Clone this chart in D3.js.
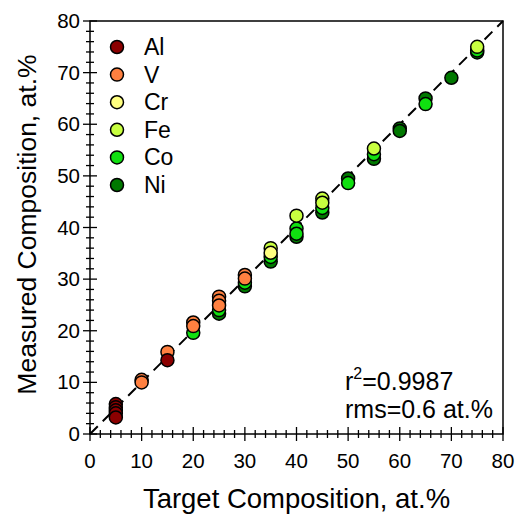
<!DOCTYPE html>
<html>
<head>
<meta charset="utf-8">
<script src="https://cdn.jsdelivr.net/npm/d3@7"></script>
<style>
  body { margin: 0; background: #fff; }
  svg { font-family: "Liberation Sans", Arial, sans-serif; }
</style>
</head>
<body>
<div id="wrapper"></div>
<script>
// element names and marker colours
const elements = ["Al", "V", "Cr", "Fe", "Co", "Ni"];
const colors = ["#8b0000", "#ff8040", "#ffff80", "#c8ff40", "#10e010", "#007800"];

// target vs measured, one pair of arrays per element
const alTarget = [5, 5, 5, 5, 5, 15];
const alMeasured = [5.8, 5.2, 4.6, 4.0, 3.2, 14.3];
const vTarget = [10, 10, 15, 20, 20, 25, 25, 25, 30, 30];
const vMeasured = [10.5, 10.0, 15.9, 21.6, 20.9, 26.6, 25.8, 24.9, 30.8, 30.1];
const crTarget = [35];
const crMeasured = [35.1];
const feTarget = [35, 40, 45, 45, 55, 75];
const feMeasured = [36.0, 42.3, 45.6, 44.8, 55.3, 75.0];
const coTarget = [20, 25, 30, 35, 40, 40, 45, 50, 55, 65, 75];
const coMeasured = [19.6, 24.0, 29.3, 34.3, 39.8, 38.8, 43.8, 48.6, 54.2, 63.9, 74.3];
const niTarget = [25, 30, 35, 40, 45, 50, 55, 60, 60, 65, 70, 75];
const niMeasured = [23.3, 28.6, 33.4, 38.2, 42.9, 49.5, 53.3, 59.2, 58.7, 65.0, 69.0, 73.9];

const targets = [alTarget, vTarget, crTarget, feTarget, coTarget, niTarget];
const measured = [alMeasured, vMeasured, crMeasured, feMeasured, coMeasured, niMeasured];

const statsLines = ["rms=0.6 at.%"];

const width = 516;
const height = 514;
const margin = { top: 21, right: 13, bottom: 80, left: 90 };

const xScale = d3.scaleLinear().domain([0, 80]).range([margin.left, width - margin.right]);
const yScale = d3.scaleLinear().domain([0, 80]).range([height - margin.bottom, margin.top]);

const svg = d3.select("#wrapper").append("svg")
  .attr("width", width)
  .attr("height", height);

// 1:1 dashed line
svg.append("line")
  .attr("x1", xScale(0)).attr("y1", yScale(0))
  .attr("x2", xScale(80)).attr("y2", yScale(80))
  .attr("stroke", "#000")
  .attr("stroke-width", 2)
  .attr("stroke-dasharray", "11,7");

// frame
svg.append("rect")
  .attr("x", xScale(0)).attr("y", yScale(80))
  .attr("width", xScale(80) - xScale(0))
  .attr("height", yScale(0) - yScale(80))
  .attr("fill", "none")
  .attr("stroke", "#000")
  .attr("stroke-width", 1.5);

// ticks crossing the axes, major every 10, minor every 2
const xTicks = svg.append("g");
xTicks.selectAll("line")
  .data(xScale.ticks(40))
  .join("line")
  .attr("x1", d => xScale(d)).attr("x2", d => xScale(d))
  .attr("y1", d => yScale(0) - (d % 10 === 0 ? 7 : 4))
  .attr("y2", d => yScale(0) + (d % 10 === 0 ? 7 : 4))
  .attr("stroke", "#000")
  .attr("stroke-width", 1.3);

const yTicks = svg.append("g");
yTicks.selectAll("line")
  .data(yScale.ticks(40))
  .join("line")
  .attr("y1", d => yScale(d)).attr("y2", d => yScale(d))
  .attr("x1", d => xScale(0) - (d % 10 === 0 ? 7 : 4))
  .attr("x2", d => xScale(0) + (d % 10 === 0 ? 7 : 4))
  .attr("stroke", "#000")
  .attr("stroke-width", 1.3);

// tick labels
svg.append("g").selectAll("text")
  .data(xScale.ticks(8))
  .join("text")
  .attr("x", d => xScale(d))
  .attr("y", yScale(0) + 34)
  .attr("text-anchor", "middle")
  .attr("font-size", 20.5)
  .text(d => d);

svg.append("g").selectAll("text")
  .data(yScale.ticks(8))
  .join("text")
  .attr("x", xScale(0) - 10)
  .attr("y", d => yScale(d) + 7)
  .attr("text-anchor", "end")
  .attr("font-size", 20.5)
  .text(d => d);

// axis titles
svg.append("text")
  .attr("x", (xScale(0) + xScale(80)) / 2)
  .attr("y", 508)
  .attr("text-anchor", "middle")
  .attr("font-size", 27.5)
  .text("Target Composition, at.%");

svg.append("text")
  .attr("transform", `translate(36, ${(yScale(0) + yScale(80)) / 2 - 3}) rotate(-90)`)
  .attr("text-anchor", "middle")
  .attr("font-size", 26.5)
  .text("Measured Composition, at.%");

// points, drawn Ni first so Al ends on top
const points = svg.append("g");
for (let i = elements.length - 1; i >= 0; i--) {
  const pts = targets[i].map((t, j) => ({ x: t, y: measured[i][j] }));
  points.append("g")
    .selectAll("circle")
    .data(pts)
    .join("circle")
    .attr("cx", d => xScale(d.x))
    .attr("cy", d => yScale(d.y))
    .attr("r", 6.5)
    .attr("fill", colors[i])
    .attr("stroke", "#000")
    .attr("stroke-width", 1.5);
}

// legend
const legend = svg.append("g");
const legendRows = legend.selectAll("g")
  .data(elements)
  .join("g")
  .attr("transform", (d, i) => `translate(117, ${47 + i * 27.6})`);
legendRows.append("circle")
  .attr("r", 6.5)
  .attr("fill", (d, i) => colors[i])
  .attr("stroke", "#000")
  .attr("stroke-width", 1.5);
legendRows.append("text")
  .attr("x", 27)
  .attr("y", 8)
  .attr("font-size", 23)
  .text(d => d);

// statistics
const r2 = svg.append("text")
  .attr("x", 345)
  .attr("y", 390)
  .attr("font-size", 25);
r2.append("tspan").text("r");
r2.append("tspan").attr("dy", -11).attr("font-size", 16).text("2");
r2.append("tspan").attr("dy", 11).text("=0.9987");

svg.append("text")
  .attr("x", 345)
  .attr("y", 418)
  .attr("font-size", 25)
  .text(statsLines[0]);
</script>
</body>
</html>
